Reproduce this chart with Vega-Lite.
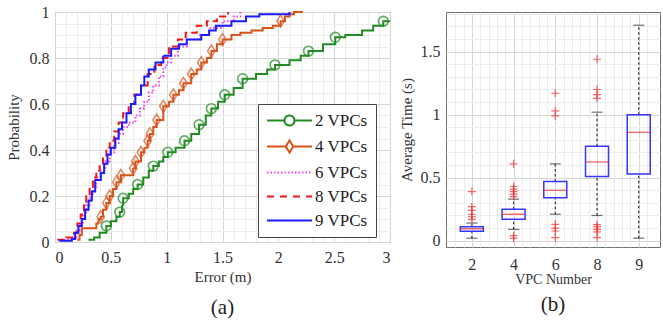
{
  "$schema": "https://vega.github.io/schema/vega-lite/v6.json",
  "background": "white",
  "padding": {"left": 5, "top": 3, "right": 0, "bottom": 0},
  "spacing": 56,
  "bounds": "flush",
  "config": {
    "font": "Liberation Serif",
    "view": {"stroke": "#707070", "strokeWidth": 1},
    "axis": {
      "labelFont": "Liberation Serif", "titleFont": "Liberation Serif",
      "labelColor": "#333", "titleColor": "#333", "labelFontSize": 16, "titleFontSize": 15,
      "titleFontWeight": "normal", "domain": false, "ticks": false, "gridOpacity": 1
    },
    "legend": {
      "title": null, "orient": "none", "padding": 8, "rowPadding": 6, "symbolSize": 100, "symbolStrokeWidth": 2,
      "symbolOffset": 15, "labelOffset": 17, "labelFont": "Liberation Serif", "labelFontSize": 17, "labelColor": "#222",
      "strokeColor": "#444", "fillColor": "white", "labelLimit": 0, "symbolOpacity": 1,
      "labelExpr": "datum.label + '\u00a0\u00a0\u00a0'"
    },
    "title": {"font": "Liberation Serif", "fontSize": 21, "fontWeight": "normal", "color": "#222"}
  },
  "datasets": {
    "cdf": [
      {"series":"2 VPCs","error":0.3,"prob":0.01},{"series":"2 VPCs","error":0.35,"prob":0.02},{"series":"2 VPCs","error":0.4,"prob":0.04},{"series":"2 VPCs","error":0.46,"prob":0.07},{"series":"2 VPCs","error":0.5,"prob":0.09},{"series":"2 VPCs","error":0.55,"prob":0.11},{"series":"2 VPCs","error":0.58,"prob":0.13},{"series":"2 VPCs","error":0.6,"prob":0.16},{"series":"2 VPCs","error":0.61,"prob":0.19},{"series":"2 VPCs","error":0.66,"prob":0.21},{"series":"2 VPCs","error":0.7,"prob":0.23},{"series":"2 VPCs","error":0.74,"prob":0.25},{"series":"2 VPCs","error":0.79,"prob":0.28},{"series":"2 VPCs","error":0.84,"prob":0.31},{"series":"2 VPCs","error":0.88,"prob":0.33},{"series":"2 VPCs","error":0.93,"prob":0.35},{"series":"2 VPCs","error":0.97,"prob":0.37},{"series":"2 VPCs","error":1.01,"prob":0.39},{"series":"2 VPCs","error":1.08,"prob":0.41},{"series":"2 VPCs","error":1.16,"prob":0.44},{"series":"2 VPCs","error":1.22,"prob":0.47},{"series":"2 VPCs","error":1.29,"prob":0.51},{"series":"2 VPCs","error":1.35,"prob":0.55},{"series":"2 VPCs","error":1.4,"prob":0.58},{"series":"2 VPCs","error":1.46,"prob":0.61},{"series":"2 VPCs","error":1.52,"prob":0.64},{"series":"2 VPCs","error":1.6,"prob":0.67},{"series":"2 VPCs","error":1.68,"prob":0.71},{"series":"2 VPCs","error":1.8,"prob":0.73},{"series":"2 VPCs","error":1.9,"prob":0.75},{"series":"2 VPCs","error":1.97,"prob":0.77},{"series":"2 VPCs","error":2.1,"prob":0.79},{"series":"2 VPCs","error":2.2,"prob":0.81},{"series":"2 VPCs","error":2.27,"prob":0.83},{"series":"2 VPCs","error":2.4,"prob":0.86},{"series":"2 VPCs","error":2.51,"prob":0.89},{"series":"2 VPCs","error":2.6,"prob":0.9},{"series":"2 VPCs","error":2.75,"prob":0.92},{"series":"2 VPCs","error":2.85,"prob":0.94},{"series":"2 VPCs","error":2.94,"prob":0.96},{"series":"2 VPCs","error":3.0,"prob":0.96},
      {"series":"4 VPCs","error":0.2,"prob":0.01},{"series":"4 VPCs","error":0.22,"prob":0.03},{"series":"4 VPCs","error":0.24,"prob":0.06},{"series":"4 VPCs","error":0.37,"prob":0.08},{"series":"4 VPCs","error":0.39,"prob":0.1},{"series":"4 VPCs","error":0.41,"prob":0.11},{"series":"4 VPCs","error":0.43,"prob":0.14},{"series":"4 VPCs","error":0.46,"prob":0.17},{"series":"4 VPCs","error":0.49,"prob":0.2},{"series":"4 VPCs","error":0.52,"prob":0.23},{"series":"4 VPCs","error":0.55,"prob":0.26},{"series":"4 VPCs","error":0.59,"prob":0.29},{"series":"4 VPCs","error":0.7,"prob":0.32},{"series":"4 VPCs","error":0.72,"prob":0.35},{"series":"4 VPCs","error":0.77,"prob":0.39},{"series":"4 VPCs","error":0.8,"prob":0.41},{"series":"4 VPCs","error":0.83,"prob":0.44},{"series":"4 VPCs","error":0.85,"prob":0.47},{"series":"4 VPCs","error":0.88,"prob":0.5},{"series":"4 VPCs","error":0.91,"prob":0.53},{"series":"4 VPCs","error":0.97,"prob":0.59},{"series":"4 VPCs","error":1.02,"prob":0.61},{"series":"4 VPCs","error":1.06,"prob":0.64},{"series":"4 VPCs","error":1.11,"prob":0.66},{"series":"4 VPCs","error":1.15,"prob":0.69},{"series":"4 VPCs","error":1.22,"prob":0.73},{"series":"4 VPCs","error":1.27,"prob":0.75},{"series":"4 VPCs","error":1.31,"prob":0.78},{"series":"4 VPCs","error":1.36,"prob":0.8},{"series":"4 VPCs","error":1.4,"prob":0.83},{"series":"4 VPCs","error":1.45,"prob":0.86},{"series":"4 VPCs","error":1.5,"prob":0.88},{"series":"4 VPCs","error":1.58,"prob":0.9},{"series":"4 VPCs","error":1.66,"prob":0.91},{"series":"4 VPCs","error":1.76,"prob":0.92},{"series":"4 VPCs","error":1.86,"prob":0.93},{"series":"4 VPCs","error":1.95,"prob":0.94},{"series":"4 VPCs","error":2.02,"prob":0.96},{"series":"4 VPCs","error":2.06,"prob":0.98},{"series":"4 VPCs","error":2.1,"prob":0.99},{"series":"4 VPCs","error":2.14,"prob":1.0},{"series":"4 VPCs","error":2.22,"prob":1.0},
      {"series":"6 VPCs","error":0.05,"prob":0.01},{"series":"6 VPCs","error":0.15,"prob":0.02},{"series":"6 VPCs","error":0.19,"prob":0.05},{"series":"6 VPCs","error":0.22,"prob":0.08},{"series":"6 VPCs","error":0.25,"prob":0.12},{"series":"6 VPCs","error":0.28,"prob":0.16},{"series":"6 VPCs","error":0.31,"prob":0.2},{"series":"6 VPCs","error":0.34,"prob":0.24},{"series":"6 VPCs","error":0.37,"prob":0.28},{"series":"6 VPCs","error":0.41,"prob":0.31},{"series":"6 VPCs","error":0.45,"prob":0.35},{"series":"6 VPCs","error":0.49,"prob":0.39},{"series":"6 VPCs","error":0.53,"prob":0.43},{"series":"6 VPCs","error":0.57,"prob":0.47},{"series":"6 VPCs","error":0.61,"prob":0.5},{"series":"6 VPCs","error":0.66,"prob":0.52},{"series":"6 VPCs","error":0.72,"prob":0.55},{"series":"6 VPCs","error":0.76,"prob":0.58},{"series":"6 VPCs","error":0.8,"prob":0.61},{"series":"6 VPCs","error":0.84,"prob":0.65},{"series":"6 VPCs","error":0.88,"prob":0.68},{"series":"6 VPCs","error":0.93,"prob":0.72},{"series":"6 VPCs","error":0.97,"prob":0.76},{"series":"6 VPCs","error":1.0,"prob":0.78},{"series":"6 VPCs","error":1.04,"prob":0.81},{"series":"6 VPCs","error":1.1,"prob":0.85},{"series":"6 VPCs","error":1.18,"prob":0.88},{"series":"6 VPCs","error":1.3,"prob":0.9},{"series":"6 VPCs","error":1.38,"prob":0.93},{"series":"6 VPCs","error":1.5,"prob":0.96},{"series":"6 VPCs","error":1.6,"prob":0.98},{"series":"6 VPCs","error":1.66,"prob":1.0},
      {"series":"8 VPCs","error":0.02,"prob":0.01},{"series":"8 VPCs","error":0.1,"prob":0.02},{"series":"8 VPCs","error":0.17,"prob":0.04},{"series":"8 VPCs","error":0.2,"prob":0.08},{"series":"8 VPCs","error":0.23,"prob":0.12},{"series":"8 VPCs","error":0.26,"prob":0.16},{"series":"8 VPCs","error":0.28,"prob":0.2},{"series":"8 VPCs","error":0.31,"prob":0.24},{"series":"8 VPCs","error":0.34,"prob":0.28},{"series":"8 VPCs","error":0.37,"prob":0.31},{"series":"8 VPCs","error":0.4,"prob":0.34},{"series":"8 VPCs","error":0.43,"prob":0.37},{"series":"8 VPCs","error":0.46,"prob":0.41},{"series":"8 VPCs","error":0.49,"prob":0.44},{"series":"8 VPCs","error":0.53,"prob":0.48},{"series":"8 VPCs","error":0.57,"prob":0.52},{"series":"8 VPCs","error":0.61,"prob":0.56},{"series":"8 VPCs","error":0.66,"prob":0.6},{"series":"8 VPCs","error":0.71,"prob":0.64},{"series":"8 VPCs","error":0.77,"prob":0.68},{"series":"8 VPCs","error":0.83,"prob":0.73},{"series":"8 VPCs","error":0.89,"prob":0.77},{"series":"8 VPCs","error":0.95,"prob":0.8},{"series":"8 VPCs","error":1.02,"prob":0.85},{"series":"8 VPCs","error":1.1,"prob":0.88},{"series":"8 VPCs","error":1.17,"prob":0.91},{"series":"8 VPCs","error":1.27,"prob":0.94},{"series":"8 VPCs","error":1.36,"prob":0.96},{"series":"8 VPCs","error":1.45,"prob":0.98},{"series":"8 VPCs","error":1.55,"prob":1.0},
      {"series":"9 VPCs","error":0.04,"prob":0.005},{"series":"9 VPCs","error":0.15,"prob":0.013},{"series":"9 VPCs","error":0.18,"prob":0.04},{"series":"9 VPCs","error":0.21,"prob":0.07},{"series":"9 VPCs","error":0.24,"prob":0.1},{"series":"9 VPCs","error":0.27,"prob":0.14},{"series":"9 VPCs","error":0.3,"prob":0.18},{"series":"9 VPCs","error":0.33,"prob":0.22},{"series":"9 VPCs","error":0.36,"prob":0.27},{"series":"9 VPCs","error":0.41,"prob":0.3},{"series":"9 VPCs","error":0.44,"prob":0.34},{"series":"9 VPCs","error":0.47,"prob":0.38},{"series":"9 VPCs","error":0.5,"prob":0.41},{"series":"9 VPCs","error":0.54,"prob":0.45},{"series":"9 VPCs","error":0.57,"prob":0.49},{"series":"9 VPCs","error":0.6,"prob":0.52},{"series":"9 VPCs","error":0.64,"prob":0.56},{"series":"9 VPCs","error":0.68,"prob":0.6},{"series":"9 VPCs","error":0.72,"prob":0.64},{"series":"9 VPCs","error":0.77,"prob":0.68},{"series":"9 VPCs","error":0.8,"prob":0.72},{"series":"9 VPCs","error":0.84,"prob":0.75},{"series":"9 VPCs","error":0.9,"prob":0.78},{"series":"9 VPCs","error":0.97,"prob":0.81},{"series":"9 VPCs","error":1.04,"prob":0.84},{"series":"9 VPCs","error":1.11,"prob":0.86},{"series":"9 VPCs","error":1.18,"prob":0.88},{"series":"9 VPCs","error":1.31,"prob":0.9},{"series":"9 VPCs","error":1.38,"prob":0.92},{"series":"9 VPCs","error":1.44,"prob":0.94},{"series":"9 VPCs","error":1.58,"prob":0.96},{"series":"9 VPCs","error":1.71,"prob":0.98},{"series":"9 VPCs","error":1.83,"prob":0.99},{"series":"9 VPCs","error":2.1,"prob":1.0}
    ],
    "markers": [
      {"series":"2 VPCs","error":0.46,"prob":0.07},{"series":"2 VPCs","error":0.58,"prob":0.13},{"series":"2 VPCs","error":0.61,"prob":0.19},{"series":"2 VPCs","error":0.74,"prob":0.25},{"series":"2 VPCs","error":0.88,"prob":0.33},{"series":"2 VPCs","error":1.01,"prob":0.39},{"series":"2 VPCs","error":1.16,"prob":0.44},{"series":"2 VPCs","error":1.29,"prob":0.51},{"series":"2 VPCs","error":1.4,"prob":0.58},{"series":"2 VPCs","error":1.52,"prob":0.64},{"series":"2 VPCs","error":1.68,"prob":0.71},{"series":"2 VPCs","error":1.97,"prob":0.77},{"series":"2 VPCs","error":2.27,"prob":0.83},{"series":"2 VPCs","error":2.51,"prob":0.89},{"series":"2 VPCs","error":2.94,"prob":0.96},
      {"series":"4 VPCs","error":0.41,"prob":0.11},{"series":"4 VPCs","error":0.46,"prob":0.17},{"series":"4 VPCs","error":0.49,"prob":0.2},{"series":"4 VPCs","error":0.55,"prob":0.26},{"series":"4 VPCs","error":0.59,"prob":0.29},{"series":"4 VPCs","error":0.7,"prob":0.32},{"series":"4 VPCs","error":0.72,"prob":0.35},{"series":"4 VPCs","error":0.77,"prob":0.39},{"series":"4 VPCs","error":0.83,"prob":0.44},{"series":"4 VPCs","error":0.85,"prob":0.47},{"series":"4 VPCs","error":0.91,"prob":0.53},{"series":"4 VPCs","error":0.97,"prob":0.59},{"series":"4 VPCs","error":1.06,"prob":0.64},{"series":"4 VPCs","error":1.15,"prob":0.69},{"series":"4 VPCs","error":1.22,"prob":0.73},{"series":"4 VPCs","error":1.31,"prob":0.78},{"series":"4 VPCs","error":1.4,"prob":0.83},{"series":"4 VPCs","error":1.5,"prob":0.88},{"series":"4 VPCs","error":2.02,"prob":0.96}
    ],
    "boxes": [
      {"group":1,"lower":0.02,"q1":0.075,"median":0.095,"q3":0.11,"upper":0.14},
      {"group":2,"lower":0.09,"q1":0.17,"median":0.21,"q3":0.25,"upper":0.33},
      {"group":3,"lower":0.21,"q1":0.34,"median":0.4,"q3":0.47,"upper":0.61},
      {"group":4,"lower":0.2,"q1":0.51,"median":0.625,"q3":0.75,"upper":1.02},
      {"group":5,"lower":0.02,"q1":0.53,"median":0.86,"q3":1.0,"upper":1.71}
    ],
    "outliers": [
      {"group":1,"time":0.17},{"group":1,"time":0.19},{"group":1,"time":0.21},{"group":1,"time":0.24},{"group":1,"time":0.27},{"group":1,"time":0.39},
      {"group":2,"time":0.35},{"group":2,"time":0.37},{"group":2,"time":0.39},{"group":2,"time":0.41},{"group":2,"time":0.43},{"group":2,"time":0.61},{"group":2,"time":0.04},{"group":2,"time":0.02},
      {"group":3,"time":0.99},{"group":3,"time":1.03},{"group":3,"time":1.17},{"group":3,"time":0.13},{"group":3,"time":0.1},{"group":3,"time":0.077},{"group":3,"time":0.024},
      {"group":4,"time":1.44},{"group":4,"time":1.2},{"group":4,"time":1.16},{"group":4,"time":1.13},{"group":4,"time":0.127},{"group":4,"time":0.11},{"group":4,"time":0.09},{"group":4,"time":0.07},{"group":4,"time":0.025}
    ]
  },
  "hconcat": [
    {
      "width": 335,
      "height": 230,
      "title": {"text": "(a)", "orient": "bottom", "offset": 13},
      "layer": [
        {
          "data": {"name": "cdf"},
          "mark": {"type": "point", "opacity": 0},
          "encoding": {
            "x": {"field": "error", "type": "quantitative", "scale": {"domain": [0, 3], "nice": false, "zero": false},
              "axis": {"orient": "top", "values": [0.1,0.2,0.3,0.4,0.6,0.7,0.8,0.9,1.1,1.2,1.3,1.4,1.6,1.7,1.8,1.9,2.1,2.2,2.3,2.4,2.6,2.7,2.8,2.9], "labels": false, "ticks": false, "domain": false, "title": null, "grid": true, "gridColor": "#ececec"}},
            "y": {"field": "prob", "type": "quantitative", "scale": {"domain": [0, 1], "nice": false},
              "axis": {"orient": "right", "values": [0.05,0.1,0.15,0.25,0.3,0.35,0.45,0.5,0.55,0.65,0.7,0.75,0.85,0.9,0.95], "labels": false, "ticks": false, "domain": false, "title": null, "grid": true, "gridColor": "#ececec"}}
          }
        },
        {
          "layer": [
            {
              "data": {"name": "cdf"},
              "mark": {"type": "line", "interpolate": "step-after", "strokeWidth": 2},
              "encoding": {
                "x": {"field": "error", "type": "quantitative", "scale": {"domain": [0, 3], "nice": false, "zero": false},
                  "axis": {"orient": "bottom", "values": [0,0.5,1,1.5,2,2.5,3], "format": "~g", "title": "Error (m)", "grid": true, "gridColor": "#d6d6d6", "labelPadding": 7, "titlePadding": 4}},
                "y": {"field": "prob", "type": "quantitative", "scale": {"domain": [0, 1], "nice": false},
                  "axis": {"orient": "left", "values": [0,0.2,0.4,0.6,0.8,1], "format": "~g", "title": "Probability", "grid": true, "gridColor": "#d6d6d6", "labelPadding": 6, "titlePadding": 8}},
                "color": {"field": "series", "type": "nominal",
                  "scale": {"domain": ["2 VPCs","4 VPCs","6 VPCs","8 VPCs","9 VPCs"], "range": ["#228b22","#d95319","#ee44ee","#f01818","#1a1aff"]},
                  "legend": {"legendX": 203, "legendY": 92}},
                "strokeDash": {"field": "series", "type": "nominal", "legend": null,
                  "scale": {"domain": ["2 VPCs","4 VPCs","6 VPCs","8 VPCs","9 VPCs"], "range": [[1,0],[1,0],[1.5,2],[7,4],[1,0]]}}
              }
            },
            {
              "data": {"name": "markers"},
              "transform": [{"filter": "datum.series === '2 VPCs'"}],
              "mark": {"type": "point", "shape": "circle", "filled": false, "size": 95, "strokeWidth": 1.7, "color": "#228b22"},
              "encoding": {
                "x": {"field": "error", "type": "quantitative"},
                "y": {"field": "prob", "type": "quantitative"}
              }
            },
            {
              "data": {"name": "markers"},
              "transform": [{"filter": "datum.series === '4 VPCs'"}],
              "mark": {"type": "point", "shape": "M0,-1.2L0.75,0L0,1.2L-0.75,0Z", "filled": false, "size": 100, "strokeWidth": 1.5, "color": "#d95319"},
              "encoding": {
                "x": {"field": "error", "type": "quantitative"},
                "y": {"field": "prob", "type": "quantitative"}
              }
            },
            {
              "data": {"name": "markers"},
              "mark": {"type": "point", "filled": false, "opacity": 0},
              "encoding": {
                "x": {"field": "error", "type": "quantitative"},
                "y": {"field": "prob", "type": "quantitative"},
                "color": {"field": "series", "type": "nominal",
                  "scale": {"domain": ["2 VPCs","4 VPCs","6 VPCs","8 VPCs","9 VPCs"], "range": ["#228b22","#d95319","#ee44ee","#f01818","#1a1aff"]},
                  "legend": {"legendX": 203, "legendY": 92}},
                "shape": {"field": "series", "type": "nominal",
                  "scale": {"domain": ["2 VPCs","4 VPCs","6 VPCs","8 VPCs","9 VPCs"], "range": [
                    "M-4.5,0H-1M1,0H4.5M1,0A1,1,0,1,1,-1,0A1,1,0,1,1,1,0",
                    "M-4.5,0H-0.75M0.75,0H4.5M0,-1.2L0.75,0L0,1.2L-0.75,0Z",
                    "M-4.5,0H-4.2M-3.8,0H-3.5M-3.1,0H-2.8M-2.4,0H-2.1M-1.7,0H-1.4M-1,0H-0.7M-0.3,0H0M0.4,0H0.7M1.1,0H1.4M1.8,0H2.1M2.5,0H2.8M3.2,0H3.5M3.9,0H4.2",
                    "M-4.5,0H-2.9M-1.9,0H-0.3M0.7,0H2.3M3.3,0H4.5",
                    "M-4.5,0H4.5"]},
                  "legend": {"legendX": 203, "legendY": 92}}
              }
            }
          ]
        }
      ],
      "resolve": {"axis": {"x": "independent", "y": "independent"}}
    },
    {
      "width": 214,
      "height": 235,
      "title": {"text": "(b)", "orient": "bottom", "offset": 8},
      "layer": [
        {
          "data": {"name": "boxes"},
          "mark": {"type": "point", "opacity": 0},
          "encoding": {
            "x": {"field": "group", "type": "quantitative", "scale": {"domain": [0.5, 5.39], "nice": false, "zero": false},
              "axis": {"orient": "top", "values": [0.6,0.8,1.2,1.4,1.6,1.8,2.2,2.4,2.6,2.8,3.2,3.4,3.6,3.8,4.2,4.4,4.6,4.8,5.2], "labels": false, "ticks": false, "domain": false, "title": null, "grid": true, "gridColor": "#ececec"}},
            "y": {"field": "median", "type": "quantitative", "scale": {"domain": [-0.05, 1.815], "nice": false, "zero": false},
              "axis": {"orient": "right", "values": [0.1,0.2,0.3,0.4,0.6,0.7,0.8,0.9,1.1,1.2,1.3,1.4,1.6,1.7,1.8], "labels": false, "ticks": false, "domain": false, "title": null, "grid": true, "gridColor": "#ececec"}}
          }
        },
        {
          "layer": [
            {
              "data": {"name": "boxes"},
              "mark": {"type": "rule", "strokeDash": [2.5, 2.5], "color": "#333", "strokeWidth": 1.2},
              "encoding": {
                "x": {"field": "group", "type": "quantitative", "scale": {"domain": [0.5, 5.39], "nice": false, "zero": false},
                  "axis": {"orient": "bottom", "values": [1,2,3,4,5], "labelExpr": "['2','4','6','8','9'][datum.value - 1]", "title": "VPC Number", "titleFontSize": 14, "grid": true, "gridColor": "#d6d6d6", "labelPadding": 9, "titlePadding": 0}},
                "y": {"field": "q3", "type": "quantitative", "scale": {"domain": [-0.05, 1.815], "nice": false, "zero": false},
                  "axis": {"orient": "left", "values": [0,0.5,1,1.5], "format": "~g", "title": "Average Time (s)", "grid": true, "gridColor": "#d6d6d6", "labelPadding": 6, "titlePadding": 6}},
                "y2": {"field": "upper"}
              }
            },
            {
              "data": {"name": "boxes"},
              "mark": {"type": "rule", "strokeDash": [2.5, 2.5], "color": "#333", "strokeWidth": 1.2},
              "encoding": {
                "x": {"field": "group", "type": "quantitative"},
                "y": {"field": "lower", "type": "quantitative"},
                "y2": {"field": "q1"}
              }
            },
            {
              "data": {"name": "boxes"},
              "mark": {"type": "tick", "orient": "horizontal", "size": 11, "thickness": 1.2, "color": "#333"},
              "encoding": {
                "x": {"field": "group", "type": "quantitative"},
                "y": {"field": "upper", "type": "quantitative"}
              }
            },
            {
              "data": {"name": "boxes"},
              "mark": {"type": "tick", "orient": "horizontal", "size": 11, "thickness": 1.2, "color": "#333"},
              "encoding": {
                "x": {"field": "group", "type": "quantitative"},
                "y": {"field": "lower", "type": "quantitative"}
              }
            },
            {
              "data": {"name": "boxes"},
              "mark": {"type": "bar", "size": 23, "filled": false, "color": "#3535ff", "strokeWidth": 1.5},
              "encoding": {
                "x": {"field": "group", "type": "quantitative"},
                "y": {"field": "q1", "type": "quantitative"},
                "y2": {"field": "q3"}
              }
            },
            {
              "data": {"name": "boxes"},
              "mark": {"type": "tick", "orient": "horizontal", "size": 23, "thickness": 1.3, "color": "#f02828"},
              "encoding": {
                "x": {"field": "group", "type": "quantitative"},
                "y": {"field": "median", "type": "quantitative"}
              }
            },
            {
              "data": {"name": "outliers"},
              "mark": {"type": "point", "shape": "M-1,0H1M0,-1V1", "filled": false, "size": 64, "strokeWidth": 1.2, "color": "#f02828"},
              "encoding": {
                "x": {"field": "group", "type": "quantitative"},
                "y": {"field": "time", "type": "quantitative"}
              }
            }
          ]
        }
      ],
      "resolve": {"axis": {"x": "independent", "y": "independent"}}
    }
  ]
}
